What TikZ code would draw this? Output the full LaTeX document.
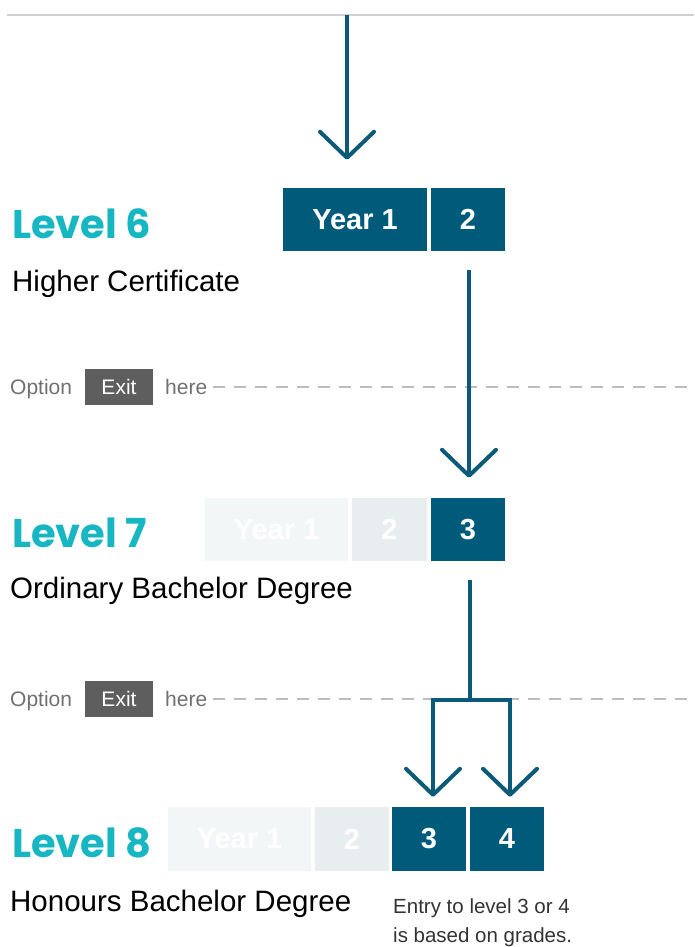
\documentclass[tikz,border=0pt]{standalone}
\usepackage{fontspec}
\setmainfont{Liberation Sans}
\newfontfamily\levelfont{Poppins}
\usetikzlibrary{arrows.meta,calc}
\definecolor{darkteal}{HTML}{005B7A}
\definecolor{arrowc}{HTML}{0B5A78}
\definecolor{levelc}{HTML}{17B6C3}
\definecolor{fade1}{HTML}{F2F6F7}
\definecolor{fade2}{HTML}{E8EDEF}
\definecolor{exitc}{HTML}{5E5E5E}
\definecolor{optc}{HTML}{707070}
\definecolor{dashc}{HTML}{BDBDBD}
\definecolor{notec}{HTML}{333333}
\begin{document}
\begin{tikzpicture}[x=1pt,y=-1pt,
  yearbox/.style={fill=darkteal,text=white,font=\fontsize{29}{29}\selectfont\bfseries,
    minimum height=63pt,inner sep=0pt},
  fadeA/.style={yearbox,fill=fade1},
  fadeB/.style={yearbox,fill=fade2},
  leveltext/.style={anchor=base west,inner sep=0pt,text=levelc,
    font=\fontsize{40}{40}\selectfont\levelfont\bfseries},
  subtext/.style={anchor=base west,inner sep=0pt,text=black,
    font=\fontsize{29.5}{29.5}\selectfont},
  opttext/.style={anchor=base west,inner sep=0pt,text=optc,font=\fontsize{21}{21}\selectfont},
  exitbox/.style={fill=exitc,text=white,font=\fontsize{21}{21}\selectfont,
    minimum width=68pt,minimum height=36pt,inner sep=0pt},
  dashline/.style={draw=dashc,line width=2pt,dash pattern=on 12pt off 9pt},
  stem/.style={draw=arrowc,line width=4pt},
  flow/.style={stem,-{Straight Barb[length=26pt,width=54pt,round]}},
  notetext/.style={anchor=base west,inner sep=0pt,text=notec,
    font=\fontsize{20.5}{20.5}\selectfont}
]
\useasboundingbox (0,0) rectangle (694,947);

% top rule
\coordinate (rulel) at (7,15);
\coordinate (ruler) at (694,15);
\draw[draw=black!18,line width=1.5pt] (rulel) -- (ruler);

% dashed exit lines (behind arrows)
\node[opttext] (opt1) at (10,394) {Option};
\node[exitbox] (exit1) at (119,387) {Exit};
\node[opttext] (here1) at (165,394) {here};
\coordinate (d1end) at (694,387);
\draw[dashline] ([xshift=6pt]here1.east |- d1end) -- (d1end);

\node[opttext] (opt2) at (10,706) {Option};
\node[exitbox] (exit2) at (119,699) {Exit};
\node[opttext] (here2) at (165,706) {here};
\coordinate (d2end) at (694,699);
\draw[dashline] ([xshift=6pt]here2.east |- d2end) -- (d2end);

% Level 6
\node[leveltext] (lv6) at (12,238) {Level 6};
\node[subtext] (sub6) at (12,291) {Higher Certificate};
\node[yearbox,minimum width=144pt] (l61) at (355,219.5) {Year 1};
\node[yearbox,minimum width=74pt] (l62) at (468,219.5) {2};

% Level 7
\node[leveltext] (lv7) at (12,547) {Level 7};
\node[subtext] (sub7) at (10,598) {Ordinary Bachelor Degree};
\node[fadeA,minimum width=143pt] (l71) at (276.5,529.5) {Year 1};
\node[fadeB,minimum width=75pt] (l72) at (389.5,529.5) {2};
\node[yearbox,minimum width=74pt] (l73) at (468,529.5) {3};

% Level 8
\node[leveltext] (lv8) at (12,857) {Level 8};
\node[subtext] (sub8) at (10,911) {Honours Bachelor Degree};
\node[fadeA,minimum width=143pt,minimum height=64pt] (l81) at (239.5,839) {Year 1};
\node[fadeB,minimum width=74pt,minimum height=64pt] (l82) at (352,839) {2};
\node[yearbox,minimum width=74pt,minimum height=64pt] (l83) at (429,839) {3};
\node[yearbox,minimum width=74pt,minimum height=64pt] (l84) at (507,839) {4};
\node[notetext] (note1) at (393,913) {Entry to level 3 or 4};
\node[notetext] (note2) at (393,942) {is based on grades.};

% arrows
\coordinate (top) at (347,15);
\draw[flow] (top) -- ([xshift=-8pt,yshift=28pt]l61.north);
\draw[flow] ([xshift=1pt,yshift=-19pt]l62.south) -- ([xshift=1pt,yshift=20pt]l73.north);
\coordinate (split) at (470,700);
\draw[stem] ([xshift=2pt,yshift=-19pt]l73.south) -- (split);
\draw[flow,line join=miter] (split) -| ([xshift=4pt,yshift=10pt]l83.north);
\draw[flow,line join=miter] (split) -| ([xshift=3pt,yshift=10pt]l84.north);
\end{tikzpicture}
\end{document}
